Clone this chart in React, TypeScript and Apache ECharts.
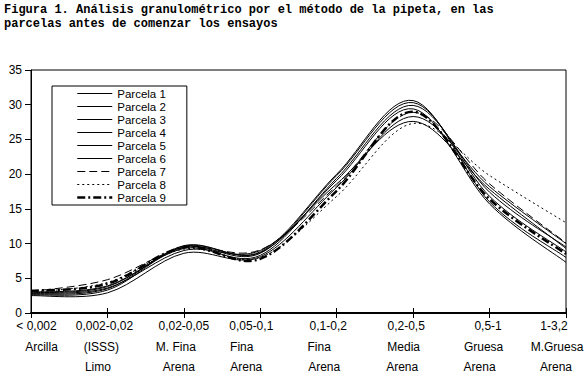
import React, { useEffect, useRef } from 'react';
import * as echarts from 'echarts';

// ---- data ----
const categories = ['< 0,002', '0,002-0,02', '0,02-0,05', '0,05-0,1', '0,1-0,2', '0,2-0,5', '0,5-1', '1-3,2'];
const classNames = ['Arcilla', '(ISSS)', 'M. Fina', 'Fina', 'Fina', 'Media', 'Gruesa', 'M.Gruesa'];
const classGroups = ['', 'Limo', 'Arena', 'Arena', 'Arena', 'Arena', 'Arena', 'Arena'];

const seriesNames = ['Parcela 1', 'Parcela 2', 'Parcela 3', 'Parcela 4', 'Parcela 5', 'Parcela 6', 'Parcela 7', 'Parcela 8', 'Parcela 9'];
const parcela1 = [2.7, 3.5, 9.7, 8.8, 20.0, 30.6, 16.0, 8.0];
const parcela2 = [2.9, 3.8, 9.5, 8.6, 19.8, 30.3, 16.8, 8.8];
const parcela3 = [3.0, 3.9, 9.3, 8.3, 19.4, 29.9, 17.4, 9.5];
const parcela4 = [2.6, 3.3, 9.6, 8.7, 19.1, 29.4, 15.7, 7.3];
const parcela5 = [2.5, 2.9, 8.6, 8.1, 18.1, 28.3, 18.2, 10.0];
const parcela6 = [2.8, 3.6, 9.0, 9.0, 18.6, 27.6, 17.8, 9.3];
const parcela7 = [3.1, 4.8, 9.4, 9.1, 18.3, 28.9, 18.6, 10.1];
const parcela8 = [3.0, 4.4, 9.2, 8.0, 16.8, 27.3, 19.8, 13.0];
const parcela9 = [3.2, 4.2, 9.5, 7.8, 17.6, 29.0, 16.4, 8.5];
const seriesValues = [parcela1, parcela2, parcela3, parcela4, parcela5, parcela6, parcela7, parcela8, parcela9];

const yMin = 0;
const yMax = 35;
const yStep = 5;

const titleText = 'Figura 1. Análisis granulométrico por el método de la pipeta, en las\nparcelas antes de comenzar los ensayos';

// ---- layout / style ----
const FONT = 'Liberation Sans, Arial, sans-serif';
// horizontal shift (px) of each label line relative to its tick
const labelShift = [
  [5.5, 10.5, 0],
  [-3, -6, -9.5],
  [0, -8, -5],
  [-9, -18.5, -14],
  [-8.5, -17.5, -12.5],
  [-7, -9.5, -11],
  [-1.5, -6, -10],
  [-12, -9, -10],
];
const lineStyles: { type: any; width: number }[] = [
  { type: 'solid', width: 1 },
  { type: 'solid', width: 1 },
  { type: 'solid', width: 1 },
  { type: 'solid', width: 1 },
  { type: 'solid', width: 1 },
  { type: 'solid', width: 1 },
  { type: [8, 4], width: 1 },
  { type: [2, 3], width: 1 },
  { type: [8, 3, 2, 3], width: 2.5 },
];

function buildRich() {
  const rich: Record<string, any> = {};
  labelShift.forEach((row, i) => {
    row.forEach((d, j) => {
      rich[`c${i}l${j}`] = {
        fontSize: 12,
        fontFamily: FONT,
        color: '#000',
        lineHeight: 20.5,
        align: 'center',
        padding: d > 0 ? [0, 0, 0, 2 * d] : [0, -2 * d, 0, 0],
      };
    });
  });
  return rich;
}

// Catmull-Rom style smoothing (like a spreadsheet's smoothed line) through pixel points
function smoothPath(pts: number[][]): string {
  const n = pts.length;
  let d = `M${pts[0][0]},${pts[0][1]}`;
  for (let i = 0; i < n - 1; i++) {
    const p0 = pts[Math.max(i - 1, 0)];
    const p1 = pts[i];
    const p2 = pts[i + 1];
    const p3 = pts[Math.min(i + 2, n - 1)];
    const c1x = p1[0] + (p2[0] - p0[0]) / 6;
    const c1y = p1[1] + (p2[1] - p0[1]) / 6;
    const c2x = p2[0] - (p3[0] - p1[0]) / 6;
    const c2y = p2[1] - (p3[1] - p1[1]) / 6;
    d += ` C${c1x},${c1y} ${c2x},${c2y} ${p2[0]},${p2[1]}`;
  }
  return d;
}

export default function App() {
  const ref = useRef<HTMLDivElement>(null);
  useEffect(() => {
    if (!ref.current) return;
    const chart = echarts.init(ref.current, undefined, { renderer: 'svg' });

    // invisible line series: carry names/styles for the legend
    const legendSeries = seriesNames.map((name, k) => ({
      name,
      type: 'line',
      xAxisIndex: 0,
      data: seriesValues[k],
      symbol: 'none',
      showSymbol: false,
      silent: true,
      color: '#000',
      lineStyle: { color: '#000', opacity: 0, ...lineStyles[k] },
      z: 1,
    }));

    // visible smoothed curves drawn through the axes' scales
    const curveSeries = seriesNames.map((name, k) => ({
      name: `${name} `,
      type: 'custom',
      xAxisIndex: 0,
      data: seriesValues[k].map((v, i) => [i, v]),
      silent: true,
      z: 3,
      renderItem: (params: any, api: any) => {
        if (params.dataIndex !== 0) return null;
        const pts = seriesValues[k].map((v, i) => api.coord([i, v]));
        const ls = lineStyles[k];
        return {
          type: 'path',
          shape: { pathData: smoothPath(pts) },
          style: {
            fill: 'none',
            stroke: '#000',
            lineWidth: ls.width,
            lineDash: Array.isArray(ls.type) ? ls.type : null,
          },
        };
      },
    }));

    const option: any = {
      animation: false,
      backgroundColor: '#fff',
      title: {
        text: titleText,
        left: 4,
        top: 3,
        padding: 0,
        textStyle: {
          fontFamily: 'Liberation Mono, Courier New, monospace',
          fontWeight: 'bold',
          fontSize: 12,
          lineHeight: 14,
          color: '#000',
        },
      },
      legend: {
        orient: 'vertical',
        left: 52,
        top: 86,
        padding: [1, 21, 1, 24],
        borderColor: '#000',
        borderWidth: 1,
        borderRadius: 0,
        itemWidth: 35,
        itemHeight: 13,
        itemGap: 0,
        itemStyle: { opacity: 0 },
        lineStyle: { width: 'inherit', opacity: 1 },
        textStyle: { fontSize: 11.5, lineHeight: 13, color: '#000', fontFamily: FONT },
        data: seriesNames,
      },
      grid: {
        left: 31,
        right: 21,
        top: 70,
        bottom: 61,
        containLabel: false,
        outerBoundsMode: 'none',
        show: true,
        borderColor: '#000',
        borderWidth: 1,
        backgroundColor: 'transparent',
      },
      xAxis: [
        {
          type: 'category',
          data: categories,
          boundaryGap: false,
          axisLine: { lineStyle: { color: '#000', width: 2 } },
          axisTick: { show: true, length: 5, lineStyle: { color: '#000', width: 1 } },
          axisLabel: {
            interval: 0,
            margin: 3,
            hideOverlap: false,
            formatter: (_v: string, i: number) => {
              const lines = [categories[i], classNames[i], classGroups[i]];
              return lines
                .map((t, j) => (t ? `{c${i}l${j}|${t}}` : ''))
                .filter(Boolean)
                .join('\n');
            },
            rich: buildRich(),
          },
          splitLine: { show: false },
        },
        {
          type: 'category',
          data: categories,
          boundaryGap: false,
          position: 'bottom',
          axisLine: { show: false },
          axisTick: { show: true, inside: true, length: 5, lineStyle: { color: '#000', width: 1 } },
          axisLabel: { show: false },
          splitLine: { show: false },
        },
      ],
      yAxis: {
        type: 'value',
        min: yMin,
        max: yMax,
        interval: yStep,
        axisLine: { show: true, lineStyle: { color: '#000', width: 1 } },
        axisTick: { show: true, length: 6, lineStyle: { color: '#000', width: 1 } },
        axisLabel: { color: '#000', fontSize: 12, fontFamily: FONT, margin: 9 },
        splitLine: { show: false },
      },
      series: [...legendSeries, ...curveSeries],
    };
    chart.setOption(option);
    return () => chart.dispose();
  }, []);
  return (
    <div
      ref={ref}
      style={{ position: 'fixed', left: 0, top: 0, width: 587, height: 374, background: '#fff' }}
    />
  );
}
